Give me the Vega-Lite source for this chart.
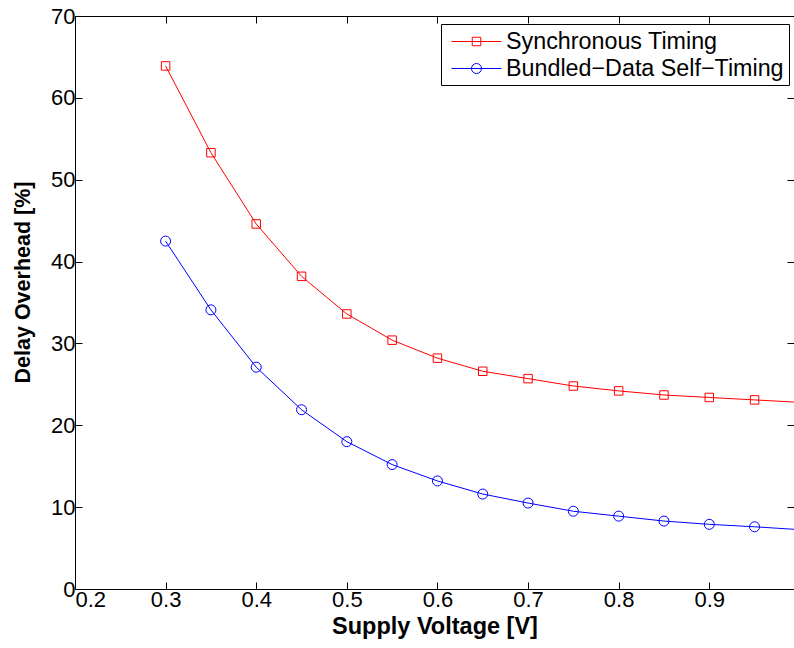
{
  "$schema": "https://vega.github.io/schema/vega-lite/v6.json",
  "autosize": {"type": "none"},
  "padding": {"left": 75, "top": 16, "right": 0, "bottom": 59},
  "width": 719,
  "height": 573,
  "background": "white",
  "config": {
    "view": {"stroke": null},
    "font": "Liberation Sans",
    "axis": {
      "grid": false,
      "domainColor": "black",
      "tickColor": "black",
      "labelColor": "black",
      "titleColor": "black",
      "labelFont": "Liberation Sans",
      "labelFontSize": 22,
      "titleFont": "Liberation Sans",
      "titleFontWeight": "bold",
      "tickSize": -7,
      "tickWidth": 1,
      "domainWidth": 1
    }
  },
  "data": {
    "values": [
      {"v": 0.30, "d": 63.9, "series": "Synchronous Timing"},
      {"v": 0.35, "d": 53.3, "series": "Synchronous Timing"},
      {"v": 0.40, "d": 44.6, "series": "Synchronous Timing"},
      {"v": 0.45, "d": 38.2, "series": "Synchronous Timing"},
      {"v": 0.50, "d": 33.6, "series": "Synchronous Timing"},
      {"v": 0.55, "d": 30.4, "series": "Synchronous Timing"},
      {"v": 0.60, "d": 28.2, "series": "Synchronous Timing"},
      {"v": 0.65, "d": 26.6, "series": "Synchronous Timing"},
      {"v": 0.70, "d": 25.7, "series": "Synchronous Timing"},
      {"v": 0.75, "d": 24.8, "series": "Synchronous Timing"},
      {"v": 0.80, "d": 24.2, "series": "Synchronous Timing"},
      {"v": 0.85, "d": 23.7, "series": "Synchronous Timing"},
      {"v": 0.90, "d": 23.4, "series": "Synchronous Timing"},
      {"v": 0.95, "d": 23.1, "series": "Synchronous Timing"},
      {"v": 1.00, "d": 22.8, "series": "Synchronous Timing"},
      {"v": 0.30, "d": 42.5, "series": "Bundled−Data Self−Timing"},
      {"v": 0.35, "d": 34.1, "series": "Bundled−Data Self−Timing"},
      {"v": 0.40, "d": 27.1, "series": "Bundled−Data Self−Timing"},
      {"v": 0.45, "d": 21.9, "series": "Bundled−Data Self−Timing"},
      {"v": 0.50, "d": 18.0, "series": "Bundled−Data Self−Timing"},
      {"v": 0.55, "d": 15.2, "series": "Bundled−Data Self−Timing"},
      {"v": 0.60, "d": 13.2, "series": "Bundled−Data Self−Timing"},
      {"v": 0.65, "d": 11.6, "series": "Bundled−Data Self−Timing"},
      {"v": 0.70, "d": 10.5, "series": "Bundled−Data Self−Timing"},
      {"v": 0.75, "d": 9.5, "series": "Bundled−Data Self−Timing"},
      {"v": 0.80, "d": 8.9, "series": "Bundled−Data Self−Timing"},
      {"v": 0.85, "d": 8.3, "series": "Bundled−Data Self−Timing"},
      {"v": 0.90, "d": 7.9, "series": "Bundled−Data Self−Timing"},
      {"v": 0.95, "d": 7.6, "series": "Bundled−Data Self−Timing"},
      {"v": 1.00, "d": 7.25, "series": "Bundled−Data Self−Timing"}
    ]
  },
  "layer": [
    {
      "mark": {"type": "line", "strokeWidth": 1, "clip": true},
      "encoding": {
        "x": {
          "field": "v", "type": "quantitative",
          "scale": {"domain": [0.2, 0.9935], "nice": false, "zero": false},
          "axis": {
            "orient": "bottom",
            "values": [0.2, 0.3, 0.4, 0.5, 0.6, 0.7, 0.8, 0.9],
            "format": ".1f",
            "labelPadding": 7,
            "title": "Supply Voltage [V]",
            "titleFontSize": 23.5,
            "titlePadding": 4
          }
        },
        "y": {
          "field": "d", "type": "quantitative",
          "scale": {"domain": [0, 70], "nice": false},
          "axis": {
            "orient": "left",
            "values": [0, 10, 20, 30, 40, 50, 60, 70],
            "labelPadding": 7,
            "title": "Delay Overhead [%]",
            "titleFontSize": 21.5,
            "titlePadding": 16,
            "titleY": 266
          }
        },
        "color": {
          "field": "series", "type": "nominal",
          "scale": {
            "domain": ["Synchronous Timing", "Bundled−Data Self−Timing"],
            "range": ["#ff0000", "#0000ff"]
          }
        }
      }
    },
    {
      "transform": [{"filter": "datum.v < 0.99 && datum.series === 'Synchronous Timing'"}],
      "mark": {"type": "point", "shape": "square", "size": 72, "filled": false, "strokeWidth": 1, "opacity": 1, "clip": true},
      "encoding": {
        "x": {"field": "v", "type": "quantitative", "axis": null},
        "y": {"field": "d", "type": "quantitative", "axis": null},
        "color": {"field": "series", "type": "nominal"}
      }
    },
    {
      "transform": [{"filter": "datum.v < 0.99 && datum.series !== 'Synchronous Timing'"}],
      "mark": {"type": "point", "shape": "circle", "size": 100, "filled": false, "strokeWidth": 1, "opacity": 1, "clip": true},
      "encoding": {
        "x": {"field": "v", "type": "quantitative", "axis": null},
        "y": {"field": "d", "type": "quantitative", "axis": null},
        "color": {"field": "series", "type": "nominal"}
      }
    },
    {
      "mark": {"type": "point", "filled": false, "opacity": 0, "strokeWidth": 1},
      "encoding": {
        "x": {
          "field": "v", "type": "quantitative",
          "axis": {
            "orient": "top",
            "values": [0.2, 0.3, 0.4, 0.5, 0.6, 0.7, 0.8, 0.9],
            "labels": false,
            "labelColor": "transparent",
            "title": null
          }
        },
        "y": {
          "field": "d", "type": "quantitative",
          "axis": {
            "orient": "right",
            "values": [0, 10, 20, 30, 40, 50, 60, 70],
            "labels": false,
            "labelColor": "transparent",
            "domain": false,
            "title": null
          }
        },
        "color": {
          "field": "series", "type": "nominal",
          "legend": {
            "title": null,
            "orient": "none",
            "legendX": 366,
            "legendY": 8,
            "strokeColor": "black",
            "fillColor": "white",
            "padding": 5,
            "labelFont": "Liberation Sans",
            "labelFontSize": 23.3,
            "labelColor": "black",
            "labelLimit": 500,
            "labelOffset": 35,
            "rowPadding": 3,
            "symbolSize": 576,
            "symbolStrokeWidth": 1,
            "symbolOpacity": 1,
            "symbolFillColor": "transparent"
          }
        },
        "shape": {
          "field": "series", "type": "nominal",
          "scale": {
            "domain": ["Synchronous Timing", "Bundled−Data Self−Timing"],
            "range": ["M-0.583,0H3.583M1.146,-0.354H1.854V0.354H1.146Z", "M-0.583,0H3.583M1.917,0A0.417,0.417 0 1,1 1.083,0A0.417,0.417 0 1,1 1.917,0Z"]
          },
          "legend": {
            "title": null,
            "orient": "none",
            "legendX": 366,
            "legendY": 8,
            "strokeColor": "black",
            "fillColor": "white",
            "padding": 5,
            "labelFont": "Liberation Sans",
            "labelFontSize": 23.3,
            "labelColor": "black",
            "labelLimit": 500,
            "labelOffset": 35,
            "rowPadding": 3,
            "symbolSize": 576,
            "symbolStrokeWidth": 1,
            "symbolOpacity": 1,
            "symbolFillColor": "transparent"
          }
        }
      }
    }
  ]
}
